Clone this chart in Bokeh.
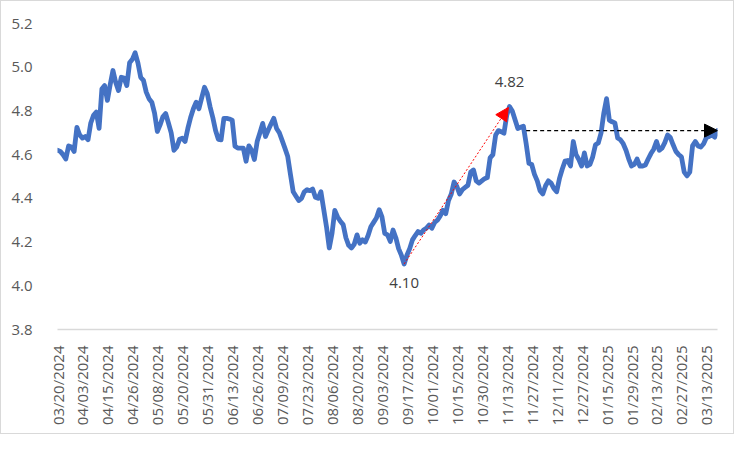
import math
from bokeh.plotting import figure
from bokeh.models import Range1d, FixedTicker, Arrow, NormalHead, Label, NumeralTickFormatter
from bokeh.embed import file_html
from bokeh.resources import INLINE

# Category labels shown on the x axis (every `label_step`-th row)
tick_labels = [
    "03/20/2024", "04/03/2024", "04/15/2024", "04/26/2024", "05/08/2024",
    "05/20/2024", "05/31/2024", "06/13/2024", "06/26/2024", "07/09/2024",
    "07/23/2024", "08/06/2024", "08/20/2024", "09/03/2024", "09/17/2024",
    "10/01/2024", "10/15/2024", "10/30/2024", "11/13/2024", "11/27/2024",
    "12/11/2024", "12/27/2024", "01/15/2025", "01/29/2025", "02/13/2025",
    "02/27/2025", "03/13/2025",
]
label_step = 9

# Daily yield series (%)
yields = [
    4.62, 4.615, 4.60, 4.58, 4.64, 4.635, 4.615, 4.725, 4.69, 4.676,
    4.683, 4.668, 4.745, 4.78, 4.795, 4.72, 4.90, 4.916, 4.848, 4.92,
    4.985, 4.93, 4.893, 4.954, 4.95, 4.916, 5.02, 5.036, 5.066, 5.02,
    4.954, 4.94, 4.886, 4.856, 4.84, 4.79, 4.706, 4.736, 4.773, 4.788,
    4.745, 4.70, 4.62, 4.635, 4.67, 4.675, 4.66, 4.72, 4.77, 4.81,
    4.84, 4.81, 4.86, 4.908, 4.88, 4.82, 4.77, 4.71, 4.67, 4.668,
    4.766, 4.766, 4.763, 4.758, 4.638, 4.63, 4.63, 4.63, 4.57, 4.64,
    4.62, 4.578, 4.66, 4.70, 4.743, 4.683, 4.713, 4.74, 4.766, 4.72,
    4.70, 4.665, 4.63, 4.593, 4.51, 4.43, 4.41, 4.39, 4.40, 4.43,
    4.44, 4.435, 4.443, 4.405, 4.40, 4.43, 4.35, 4.27, 4.173, 4.24,
    4.345, 4.315, 4.295, 4.28, 4.22, 4.185, 4.173, 4.19, 4.233, 4.195,
    4.21, 4.20, 4.23, 4.27, 4.29, 4.31, 4.348, 4.315, 4.24, 4.233,
    4.203, 4.255, 4.22, 4.17, 4.14, 4.10, 4.14, 4.17, 4.21, 4.23,
    4.248, 4.24, 4.255, 4.263, 4.278, 4.263, 4.29, 4.30, 4.32, 4.345,
    4.33, 4.39, 4.42, 4.475, 4.455, 4.42, 4.44, 4.45, 4.46, 4.52,
    4.53, 4.48, 4.47, 4.48, 4.49, 4.495, 4.585, 4.60, 4.69, 4.71,
    4.705, 4.698, 4.78, 4.82, 4.80, 4.76, 4.72, 4.725, 4.73, 4.65,
    4.56, 4.555, 4.51, 4.48, 4.435, 4.42, 4.458, 4.48, 4.47, 4.445,
    4.43, 4.49, 4.533, 4.57, 4.573, 4.548, 4.66, 4.60, 4.578, 4.548,
    4.608, 4.548, 4.555, 4.59, 4.645, 4.653, 4.698, 4.79, 4.856, 4.758,
    4.75, 4.745, 4.676, 4.668, 4.65, 4.62, 4.58, 4.548, 4.555, 4.58,
    4.548, 4.548, 4.553, 4.58, 4.605, 4.625, 4.66, 4.62, 4.63, 4.655,
    4.69, 4.678, 4.645, 4.615, 4.60, 4.59, 4.52, 4.503, 4.52, 4.64,
    4.66, 4.64, 4.635, 4.65, 4.678, 4.683, 4.69, 4.68, 4.71,
]

y_ticks = [3.8, 4.0, 4.2, 4.4, 4.6, 4.8, 5.0, 5.2]
flat_start = 169  # row where the flat reference arrow starts

FONT = "Open Sans"
xs = list(range(len(yields)))

p = figure(
    width=734, height=434,
    x_range=Range1d(0, len(yields) - 1),
    y_range=Range1d(y_ticks[0], y_ticks[-1]),
    output_backend="svg", toolbar_location=None,
    min_border_left=56, min_border_right=18, min_border_top=22, min_border_bottom=106,
    background_fill_color="white", border_fill_color="white",
)
p.styles = {"border": "1px solid #d9d9d9"}
p.outline_line_color = None
p.xgrid.visible = False
p.ygrid.visible = False

p.line(xs, yields, line_color="#4472C4", line_width=4.8, line_join="round", line_cap="round")

# axes
ya = p.yaxis[0]
ya.ticker = FixedTicker(ticks=y_ticks)
ya.formatter = NumeralTickFormatter(format="0.0")
ya.axis_line_color = None
ya.major_tick_line_color = None
ya.minor_tick_line_color = None
ya.major_label_standoff = 19
ya.major_label_text_font = FONT
ya.major_label_text_font_size = "15px"
ya.major_label_text_color = "#595959"

xa = p.xaxis[0]
tick_pos = [i * label_step for i in range(len(tick_labels))]
xa.ticker = FixedTicker(ticks=tick_pos)
xa.major_label_overrides = {t: lab for t, lab in zip(tick_pos, tick_labels)}
xa.major_label_orientation = math.pi / 2
xa.axis_line_color = "#d9d9d9"
xa.axis_line_width = 1.5
xa.major_tick_line_color = None
xa.minor_tick_line_color = None
xa.major_label_standoff = 10
xa.major_label_text_font = FONT
xa.major_label_text_font_size = "15px"
xa.major_label_text_color = "#595959"

# annotations
low_i = yields.index(min(yields))
seg = yields[low_i:low_i + 60]
high_i = low_i + seg.index(max(seg))

p.add_layout(Arrow(
    x_start=low_i, y_start=yields[low_i], x_end=high_i - 0.4, y_end=yields[high_i] - 0.004,
    line_color="#FF0000", line_width=1.0, line_dash="2 2",
    end=NormalHead(size=13, fill_color="#FF0000", line_color="#FF0000"),
))
p.add_layout(Arrow(
    x_start=flat_start, y_start=yields[-1], x_end=len(yields) - 1, y_end=yields[-1],
    line_color="black", line_width=1.3, line_dash="4 3",
    end=NormalHead(size=13, fill_color="black", line_color="black"),
))
p.add_layout(Label(
    x=high_i, y=yields[high_i], text=f"{yields[high_i]:.2f}", y_offset=25,
    text_align="center", text_baseline="middle",
    text_font=FONT, text_font_size="15px", text_color="#404040",
))
p.add_layout(Label(
    x=low_i, y=yields[low_i], text=f"{yields[low_i]:.2f}", y_offset=-19,
    text_align="center", text_baseline="middle",
    text_font=FONT, text_font_size="15px", text_color="#404040",
))

open("out.html", "w").write(file_html(p, INLINE))
